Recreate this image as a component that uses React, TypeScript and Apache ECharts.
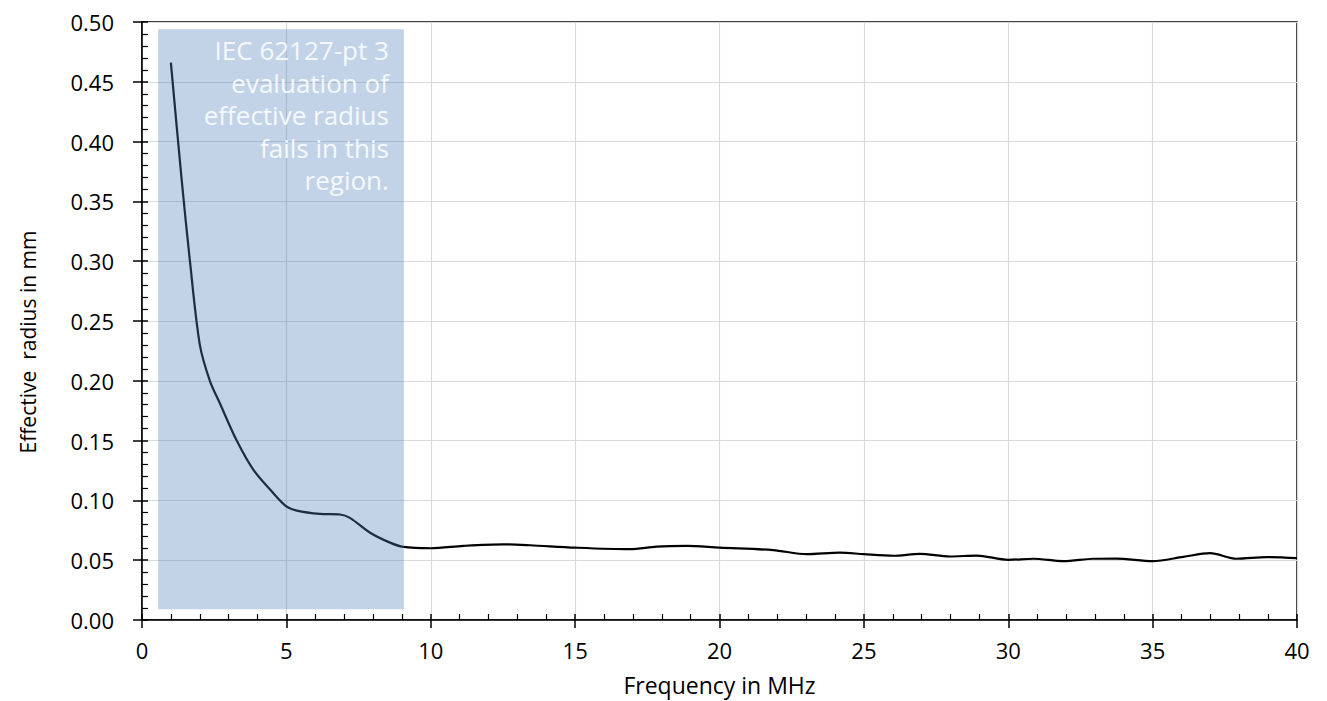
import React, { useEffect, useRef } from "react";
import * as echarts from "echarts";

const frequencyMHz = [1, 1.37, 1.66, 2, 2.35, 2.7, 3.28, 3.86, 4.55, 5, 5.36, 6.16, 6.86, 7.2, 7.9, 8.59, 9.05, 10, 11.13, 12.5, 13.44, 15, 16.9, 17.82, 18.86, 20, 21.86, 23.02, 24.17, 25, 26.02, 26.94, 27.98, 28.9, 30, 30.87, 31.9, 32.94, 33.75, 35, 36.06, 36.99, 37.91, 38.95, 40];
const radiusMm = [0.466, 0.369, 0.3, 0.2305, 0.2, 0.181, 0.15, 0.1255, 0.106, 0.095, 0.0915, 0.0887, 0.0882, 0.0854, 0.073, 0.0647, 0.0611, 0.06, 0.062, 0.0633, 0.0625, 0.0605, 0.0592, 0.0614, 0.062, 0.0605, 0.0584, 0.055, 0.0564, 0.055, 0.0537, 0.0553, 0.0531, 0.0539, 0.0503, 0.0512, 0.0492, 0.0512, 0.0514, 0.0492, 0.0528, 0.0559, 0.0512, 0.0526, 0.0517];

const regionX = [0.56, 9.07];
const regionY = [0.009, 0.494];
const regionText = ["IEC 62127-pt 3", "evaluation of", "effective radius", "fails in this", "region."];

const xTicks = { min: 0, max: 40, interval: 5 };
const yTicks = { min: 0, max: 0.5, interval: 0.05 };

const FONT = "'Open Sans', sans-serif";

export default function App() {
  const ref = useRef<HTMLDivElement>(null);
  useEffect(() => {
    if (!ref.current) return;
    const chart = echarts.init(ref.current, undefined, { renderer: "svg" });
    const data = frequencyMHz.map((f, i) => [f, radiusMm[i]]);
    const tickLine = { color: "#000", width: 1.5 };
    chart.setOption({
      animation: false,
      backgroundColor: "#fff",
      grid: {
        left: 142,
        right: 30,
        top: 22,
        bottom: 76,
        show: true,
        borderColor: "#000",
        borderWidth: 1.5,
        backgroundColor: "transparent",
      },
      xAxis: [
        {
          type: "value",
          position: "bottom",
          ...xTicks,
          name: "Frequency in MHz",
          nameLocation: "middle",
          nameGap: 53,
          nameTextStyle: { fontFamily: FONT, fontSize: 23, color: "#000" },
          axisLine: { show: true, lineStyle: tickLine },
          axisTick: { show: true, inside: false, length: 8, lineStyle: tickLine },
          axisLabel: { margin: 19, fontFamily: FONT, fontSize: 22, color: "#000" },
          splitLine: { show: true, lineStyle: { color: "#d9d9d9", width: 1.2 } },
        },
        {
          type: "value",
          position: "bottom",
          ...xTicks,
          axisLine: { show: false },
          axisLabel: { show: false },
          axisTick: { show: true, inside: true, length: 6, lineStyle: tickLine },
          minorTick: { show: true, splitNumber: 5, length: 6, lineStyle: { color: "#000", width: 1.2 } },
          splitLine: { show: false },
        },
      ],
      yAxis: [
        {
          type: "value",
          position: "left",
          ...yTicks,
          axisLine: { show: true, lineStyle: tickLine },
          axisTick: { show: true, inside: false, length: 9, lineStyle: tickLine },
          axisLabel: {
            margin: 28,
            fontFamily: FONT,
            fontSize: 22,
            color: "#000",
            formatter: (v: number) => v.toFixed(2),
          },
          splitLine: { show: true, lineStyle: { color: "#d9d9d9", width: 1.2 } },
        },
        {
          type: "value",
          position: "left",
          ...yTicks,
          axisLine: { show: false },
          axisLabel: { show: false },
          axisTick: { show: true, inside: true, length: 6, lineStyle: tickLine },
          minorTick: { show: true, splitNumber: 5, length: 6, lineStyle: { color: "#000", width: 1.2 } },
          splitLine: { show: false },
        },
      ],
      graphic: [
        {
          type: "text",
          x: 28,
          y: 342,
          rotation: Math.PI / 2,
          style: {
            text: "Effective\u00a0 radius in mm",
            fontFamily: FONT,
            fontSize: 21,
            fill: "#000",
            align: "center",
            verticalAlign: "middle",
          },
        },
      ],
      series: [
        {
          type: "line",
          xAxisIndex: 0,
          yAxisIndex: 0,
          data,
          smooth: 0.3,
          showSymbol: false,
          symbol: "none",
          lineStyle: { color: "#000", width: 2.2 },
          z: 2,
          markArea: {
            silent: true,
            z: 10,
            itemStyle: { color: "rgba(79,129,189,0.35)" },
            label: {
              show: true,
              position: "insideTopRight",
              distance: 5,
              offset: [-10, 0],
              align: "right",
              fontFamily: FONT,
              fontSize: 26,
              lineHeight: 32.5,
              color: "#f5f8fc",
            },
            data: [
              [
                { name: regionText.join("\n"), xAxis: regionX[0], yAxis: regionY[1] },
                { xAxis: regionX[1], yAxis: regionY[0] },
              ],
            ],
          },
        },
      ],
    });
    return () => chart.dispose();
  }, []);
  return (
    <div
      ref={ref}
      style={{ position: "absolute", left: 0, top: 0, width: 1327, height: 701 }}
    />
  );
}
